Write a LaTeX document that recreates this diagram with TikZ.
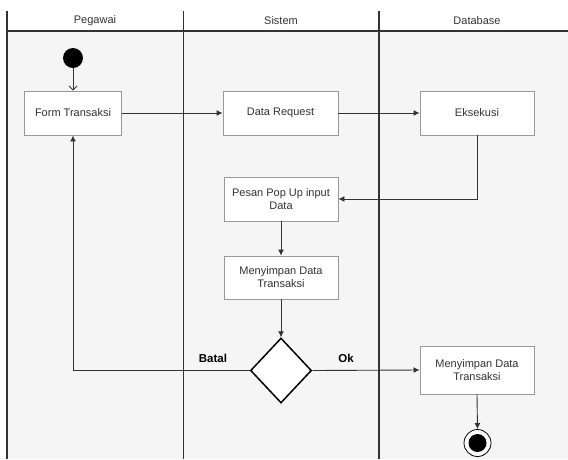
\documentclass[tikz,border=0pt]{standalone}
\usepackage{fontspec}
\setmainfont{Liberation Sans}
\usetikzlibrary{shapes.geometric,arrows.meta}
\definecolor{lanebg}{HTML}{F5F5F5}
\definecolor{laneline}{HTML}{333333}
\definecolor{boxline}{HTML}{999999}
\definecolor{txt}{HTML}{333333}
\tikzset{
  actbox/.style={draw=boxline, fill=white, line width=0.9pt, text=txt,
    font=\fontsize{11}{13}\selectfont, align=center, inner sep=0pt},
  flow/.style={draw=laneline, line width=0.9pt, -{Latex[length=6pt,width=6pt]}},
  openflow/.style={draw=laneline, line width=0.9pt, -{Straight Barb[length=4pt,width=8pt]}},
  lbl/.style={font=\bfseries\fontsize{11.5}{13}\selectfont, text=black},
  hdr/.style={font=\fontsize{11}{13}\selectfont, text=txt},
}
\begin{document}
\begin{tikzpicture}[x=1pt,y=-1pt]
\useasboundingbox (0,0) rectangle (568,459);
\fill[white] (0,0) rectangle (568,459);
\fill[lanebg] (7,31) rectangle (568,459);
% swimlane lines
\draw[laneline, line width=1.2pt] (7,11) -- (7,459);
\draw[laneline, line width=1.4pt] (183.5,11) -- (183.5,459);
\draw[laneline, line width=1.4pt] (379,11) -- (379,459);
\draw[laneline, line width=1.2pt] (7,31) -- (568,31);
\node[hdr] (h1) at (95,21) {Pegawai};
\node[hdr] (h2) at (281,21) {Sistem};
\node[hdr] (h3) at (477,21) {Database};
% nodes
\node[circle, fill=black, minimum size=20pt, inner sep=0pt] (start) at (73,58) {};
\node[actbox, minimum width=97pt, minimum height=44pt] (form) at (73,113) {Form Transaksi};
\node[actbox, minimum width=115pt, minimum height=44pt] (req) at (280.5,113) {Data Request};
\node[actbox, minimum width=114pt, minimum height=44pt] (eks) at (477,113) {Eksekusi};
\node[actbox, minimum width=114pt, minimum height=44pt] (pesan) at (281,199) {Pesan Pop Up input\\Data};
\node[actbox, minimum width=114pt, minimum height=43pt] (simpan1) at (281,277.5) {Menyimpan Data\\Transaksi};
\node[diamond, draw=black, fill=white, line width=1.5pt, minimum width=61pt, minimum height=65pt, inner sep=0pt] (dec) at (281,370.5) {};
\node[actbox, minimum width=114pt, minimum height=48pt] (simpan2) at (477,370) {Menyimpan Data\\Transaksi};
\node[circle, draw=black, fill=white, line width=0.8pt, minimum size=27pt, inner sep=0pt] (endo) at (477.5,443) {};
\node[circle, fill=black, minimum size=18pt, inner sep=0pt] (endi) at (477.5,443) {};
% connectors
\draw[openflow] (start) -- (form.north);
\draw[flow] (form.east) -- (req.west);
\draw[flow] (req.east) -- (eks.west);
\draw[flow] (eks.south) |- (pesan.east);
\draw[flow] (pesan.south) -- (simpan1.north);
\draw[flow] (simpan1.south) -- (dec.north);
\draw[flow] (dec.west) -| (form.south);
\draw[flow] (dec.east) -- (simpan2.west);
\draw[flow] (simpan2.south) -- (endo.north);
\node[lbl] (batal) at (213,358) {Batal};
\node[lbl] (ok) at (346,358) {Ok};
\end{tikzpicture}
\end{document}
